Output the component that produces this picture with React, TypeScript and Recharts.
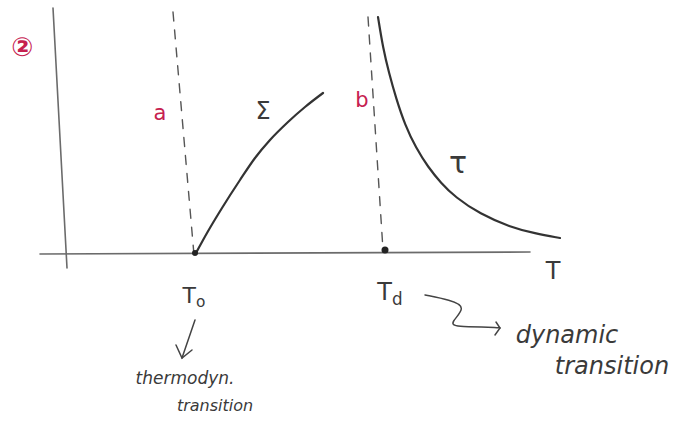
import React from "react";
import { ComposedChart, Line, XAxis, YAxis, ReferenceDot } from "recharts";

// sketch units: T runs along x, the plotted quantity along y
const yAxisStroke = [{ x: 0.26, y: 4.9 }, { x: 0.54, y: -0.3 }];
const tAxisStroke = [{ x: 0, y: -0.02 }, { x: 9.8, y: 0.02 }];
const dashA = [{ x: 2.66, y: 4.82 }, { x: 3.08, y: -0.04 }];
const dashB = [{ x: 6.56, y: 4.72 }, { x: 6.86, y: 0.06 }];

const sigma = [
  { x: 3.12, y: 0 }, { x: 3.34, y: 0.4 }, { x: 3.64, y: 0.9 }, { x: 4.0, y: 1.46 },
  { x: 4.3, y: 1.9 }, { x: 4.6, y: 2.26 }, { x: 4.96, y: 2.62 }, { x: 5.3, y: 2.92 },
  { x: 5.66, y: 3.2 },
];

const tau = [
  { x: 6.76, y: 4.72 }, { x: 6.86, y: 4.1 }, { x: 6.98, y: 3.6 }, { x: 7.12, y: 3.1 },
  { x: 7.3, y: 2.56 }, { x: 7.52, y: 2.1 }, { x: 7.76, y: 1.72 }, { x: 8.02, y: 1.4 },
  { x: 8.3, y: 1.12 }, { x: 8.8, y: 0.78 }, { x: 9.4, y: 0.52 }, { x: 9.9, y: 0.39 },
  { x: 10.4, y: 0.3 },
];

const t0Arrow = [{ x: 3.1, y: -1.34 }, { x: 2.84, y: -2.1 }];
const t0Head = [{ x: 2.72, y: -1.84 }, { x: 2.84, y: -2.1 }, { x: 3.04, y: -1.94 }];
const tdSquiggle = [
  { x: 7.7, y: -0.84 }, { x: 8.2, y: -0.94 }, { x: 8.54, y: -1.08 }, { x: 8.2, y: -1.4 },
  { x: 8.3, y: -1.48 }, { x: 9.06, y: -1.48 }, { x: 9.2, y: -1.5 },
];
const tdHead = [{ x: 9.12, y: -1.38 }, { x: 9.2, y: -1.5 }, { x: 9.1, y: -1.64 }];

const tdPoint = { x: 6.9, y: 0.06 };

type Note = {
  x: number;
  y: number;
  text: string;
  sub?: string;
  color: string;
  size: number;
  italic?: boolean;
  bold?: boolean;
};

const RED = "#c6204f";
const INK = "#3a3a3a";

const notes: Note[] = [
  { x: -0.36, y: 4.12, text: "②", color: RED, size: 26, bold: true },
  { x: 2.4, y: 2.8, text: "a", color: RED, size: 21 },
  { x: 6.44, y: 3.06, text: "b", color: RED, size: 21 },
  { x: 4.46, y: 2.84, text: "Σ", color: INK, size: 24 },
  { x: 8.36, y: 1.82, text: "τ", color: INK, size: 30 },
  { x: 10.26, y: -0.36, text: "T", color: INK, size: 24 },
  { x: 3.08, y: -0.84, text: "T", sub: "o", color: INK, size: 22 },
  { x: 7.0, y: -0.78, text: "T", sub: "d", color: INK, size: 24 },
  { x: 2.9, y: -2.5, text: "thermodyn.", color: INK, size: 17, italic: true },
  { x: 3.5, y: -3.04, text: "transition", color: INK, size: 16, italic: true },
  { x: 10.54, y: -1.64, text: "dynamic", color: INK, size: 24, italic: true },
  { x: 11.44, y: -2.26, text: "transition", color: INK, size: 24, italic: true },
];

function NoteLabel(props: any) {
  const { viewBox, note } = props;
  const cx = viewBox.x + (viewBox.width || 0) / 2;
  const cy = viewBox.y + (viewBox.height || 0) / 2;
  return (
    <text
      x={cx}
      y={cy}
      textAnchor="middle"
      dominantBaseline="central"
      fill={note.color}
      fontSize={note.size}
      fontFamily="'DejaVu Sans', sans-serif"
      fontStyle={note.italic ? "italic" : "normal"}
      fontWeight={note.bold ? 700 : 400}
    >
      {note.text}
      {note.sub && (
        <tspan fontSize={note.size * 0.7} dy={note.size * 0.3}>
          {note.sub}
        </tspan>
      )}
    </text>
  );
}

const stroke = (data: { x: number; y: number }[], color: string, width: number, extra: any = {}) => (
  <Line
    data={data}
    dataKey="y"
    type="linear"
    stroke={color}
    strokeWidth={width}
    dot={false}
    activeDot={false}
    isAnimationActive={false}
    strokeLinecap="round"
    {...extra}
  />
);

export default function App() {
  return (
    <div style={{ position: "absolute", left: 0, top: 0, width: 680, height: 423, background: "#fff" }}>
      <ComposedChart width={680} height={423} margin={{ top: 0, right: 0, bottom: 0, left: 0 }}>
        <XAxis type="number" dataKey="x" domain={[-0.8, 12.8]} hide allowDataOverflow />
        <YAxis type="number" domain={[-3.4, 5.06]} hide allowDataOverflow />
        {stroke(yAxisStroke, "#6b6b6b", 1.6)}
        {stroke(tAxisStroke, "#6b6b6b", 1.6)}
        {stroke(dashA, "#555", 1.4, { strokeDasharray: "9 9" })}
        {stroke(dashB, "#555", 1.4, { strokeDasharray: "9 9" })}
        {stroke(sigma, "#333", 2.2, { type: "monotone" })}
        {stroke(tau, "#333", 2.2, { type: "basis" })}
        {stroke(t0Arrow, "#444", 1.5)}
        {stroke(t0Head, "#444", 1.5)}
        {stroke(tdSquiggle, "#444", 1.5, { type: "basis" })}
        {stroke(tdHead, "#444", 1.5)}
        <ReferenceDot x={tdPoint.x} y={tdPoint.y} r={3.5} fill="#222" stroke="none" />
        <ReferenceDot x={3.1} y={0} r={3} fill="#222" stroke="none" />
        {notes.map((n, i) => (
          <ReferenceDot
            key={i}
            x={n.x}
            y={n.y}
            r={0}
            fill="none"
            stroke="none"
            label={<NoteLabel note={n} />}
          />
        ))}
      </ComposedChart>
    </div>
  );
}
